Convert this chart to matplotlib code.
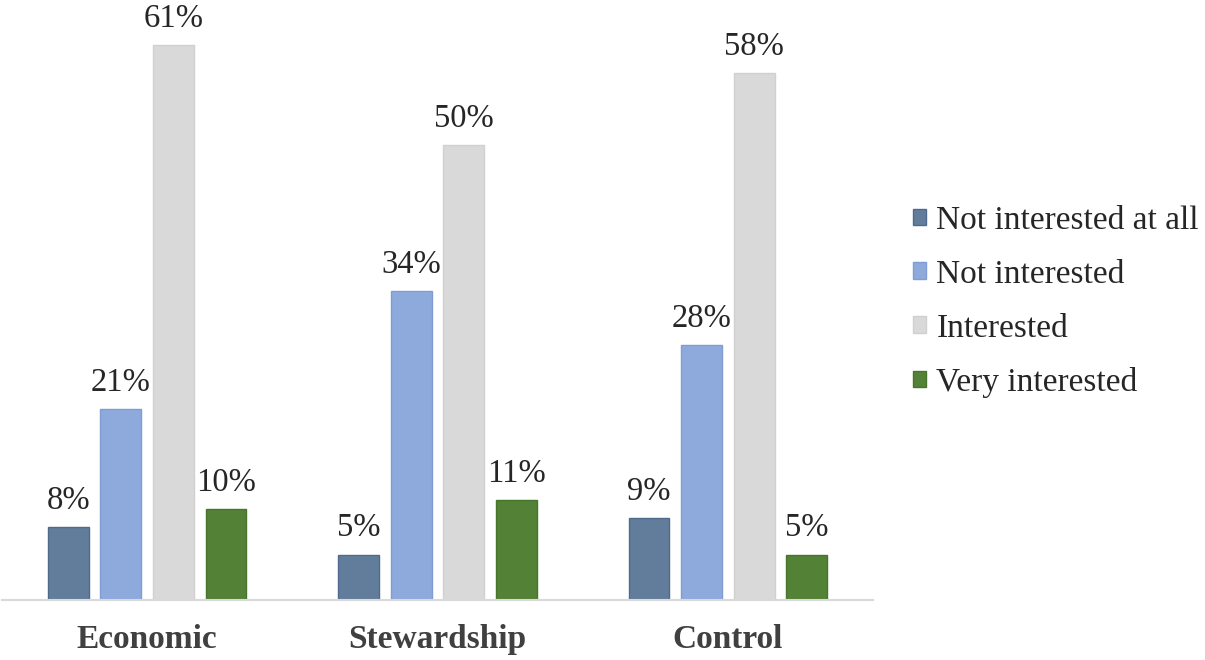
import matplotlib
matplotlib.use("Agg")
import matplotlib.pyplot as plt
import numpy as np
from matplotlib.patches import Patch

categories = ["Economic", "Stewardship", "Control"]
series_names = ["Not interested at all", "Not interested", "Interested", "Very interested"]
not_at_all = [8, 5, 9]
not_interested = [21, 34, 28]
interested = [61, 50, 58]
very_interested = [10, 11, 5]
series_values = [not_at_all, not_interested, interested, very_interested]

colors = ["#627C9C", "#8EA9DB", "#D9D9D9", "#538135"]
edges = ["#4E6A8C", "#7F9CD3", "#D0D0D0", "#47752C"]

plt.rcParams['font.family'] = ['Liberation Serif', 'DejaVu Serif']

fig = plt.figure(figsize=(12.05, 6.6), dpi=100)
ax = fig.add_axes([2/1205, 60/660, 871/1205, 600/660])

x = np.arange(len(categories))
width = 0.141
pitch = 0.181
offsets = (np.arange(4) - 1.5) * pitch
for i, vals in enumerate(series_values):
    bars = ax.bar(x + offsets[i], vals, width, color=colors[i], edgecolor=edges[i],
                  linewidth=1.0, label=series_names[i])
    for b, v in zip(bars, vals):
        ax.annotate(f"{v}%", (b.get_x() + b.get_width()/2, v), xytext=(0, 8),
                    textcoords="offset points", ha="center", va="bottom",
                    fontsize=23.5, color="#262626")

ax.set_xlim(-0.5, 2.5)
ax.set_ylim(0, 66)
ax.set_yticks([])
ax.set_xticks(x)
ax.set_xticklabels(categories, fontsize=24, fontweight="bold", color="#404040")
ax.tick_params(axis="x", length=0, pad=17)
for s in ["top", "right", "left"]:
    ax.spines[s].set_visible(False)
ax.spines["bottom"].set_color("#D9D9D9")
ax.spines["bottom"].set_linewidth(1.5)

handles = [Patch(facecolor=colors[i], edgecolor=edges[i], label=series_names[i]) for i in range(4)]
fig.legend(handles=handles, loc="center left", bbox_to_anchor=(903/1205, 0.543),
           frameon=False, fontsize=24, handlelength=0.4, handleheight=0.4,
           handletextpad=0.3, labelspacing=0.7, labelcolor="#262626",
           borderaxespad=0, borderpad=0.3)

fig.savefig("out.png", dpi=100)
